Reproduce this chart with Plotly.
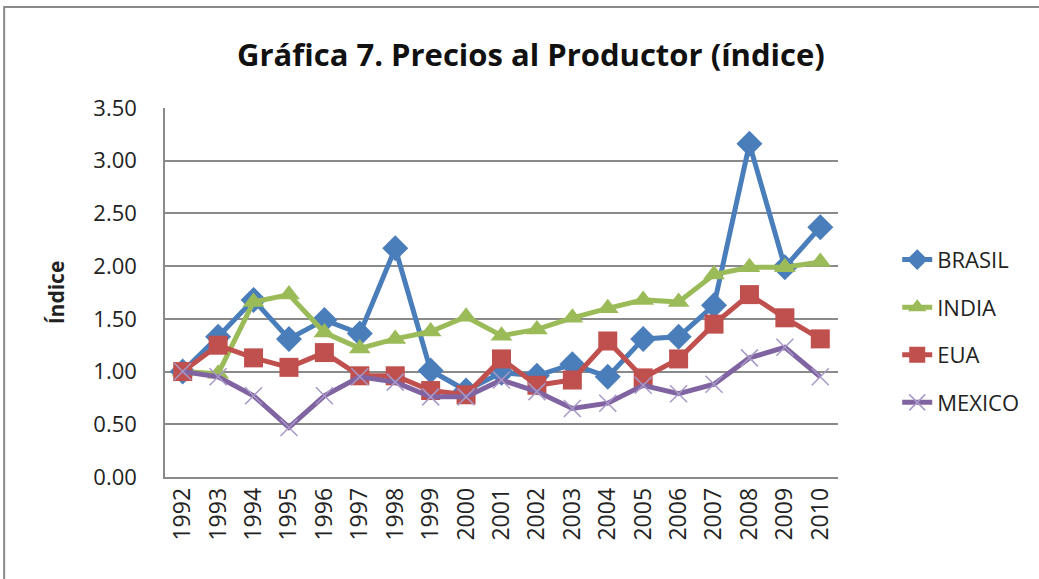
import plotly.graph_objects as go

years = [str(y) for y in range(1992, 2011)]
brasil = [1.00, 1.33, 1.68, 1.31, 1.49, 1.36, 2.17, 1.01, 0.82, 0.99, 0.96, 1.07, 0.95, 1.31, 1.33, 1.63, 3.16, 1.99, 2.37]
india = [1.00, 0.98, 1.66, 1.73, 1.37, 1.22, 1.31, 1.38, 1.52, 1.34, 1.40, 1.51, 1.60, 1.68, 1.66, 1.92, 1.99, 1.99, 2.04]
eua = [1.00, 1.25, 1.13, 1.04, 1.18, 0.96, 0.96, 0.82, 0.78, 1.12, 0.87, 0.92, 1.29, 0.94, 1.12, 1.45, 1.73, 1.51, 1.31]
mexico = [1.00, 0.95, 0.77, 0.47, 0.77, 0.95, 0.90, 0.76, 0.76, 0.92, 0.81, 0.65, 0.70, 0.87, 0.79, 0.88, 1.13, 1.23, 0.95]
y_ticks = [0, 0.5, 1.0, 1.5, 2.0, 2.5, 3.0, 3.5]

series = [
    ("BRASIL", brasil, "#4A7EBB", "diamond", 20, None),
    ("INDIA", india, "#9BBB59", "triangle-up", 19, None),
    ("EUA", eua, "#C0504D", "square", 19, None),
    ("MEXICO", mexico, "#8064A2", "x-thin", 17, "#A898C8"),
]

fig = go.Figure()
for i, (name, vals, color, sym, size, mline) in enumerate(series):
    marker = dict(symbol=sym, size=size, color=color)
    if mline:
        marker["line"] = dict(color=mline, width=1.5)
    fig.add_trace(go.Scatter(
        x=years, y=vals, name=name, mode="lines+markers",
        line=dict(color=color, width=5),
        marker=marker, legendgroup=name,
    ))

fig.update_layout(
    width=1039, height=579,
    margin=dict(l=165, r=201, t=108, b=102),
    paper_bgcolor="white", plot_bgcolor="white",
    font=dict(family="Open Sans", color="#222222", size=21),
    title=dict(text="<b>Gráfica 7. Precios al Productor (índice)</b>",
               x=0.511, xanchor="center", y=0.905, yanchor="middle",
               font=dict(size=31, color="#111111")),
    legend=dict(x=1.088, xanchor="left", y=0.395, yanchor="middle",
                tracegroupgap=16, font=dict(size=22),
                bgcolor="rgba(0,0,0,0)"),
    showlegend=True,
)
fig.update_xaxes(
    type="category", range=[-0.5, 18.5], tickangle=-90,
    showline=True, linecolor="#8A8A8A", linewidth=1.5,
    showgrid=False, tickfont=dict(size=23), ticks="",
)
fig.update_yaxes(
    range=[0, 3.5], tickvals=y_ticks, tickformat=".2f",
    showline=True, linecolor="#8A8A8A", linewidth=1.5,
    showgrid=True, gridcolor="#8A8A8A", gridwidth=1.5,
    zeroline=False, ticks="", ticklabelstandoff=22,
    tickfont=dict(size=22),
    title=dict(text="<b>Índice</b>", font=dict(size=21), standoff=23),
)
fig.add_shape(type="rect", xref="paper", yref="paper",
              x0=-0.239, x1=1.4, y0=-0.4, y1=1.274,
              line=dict(color="#8A8A8A", width=2), layer="below")

fig.write_html("out.html", config={"displayModeBar": False},
               post_script="document.body.style.margin='0';")
